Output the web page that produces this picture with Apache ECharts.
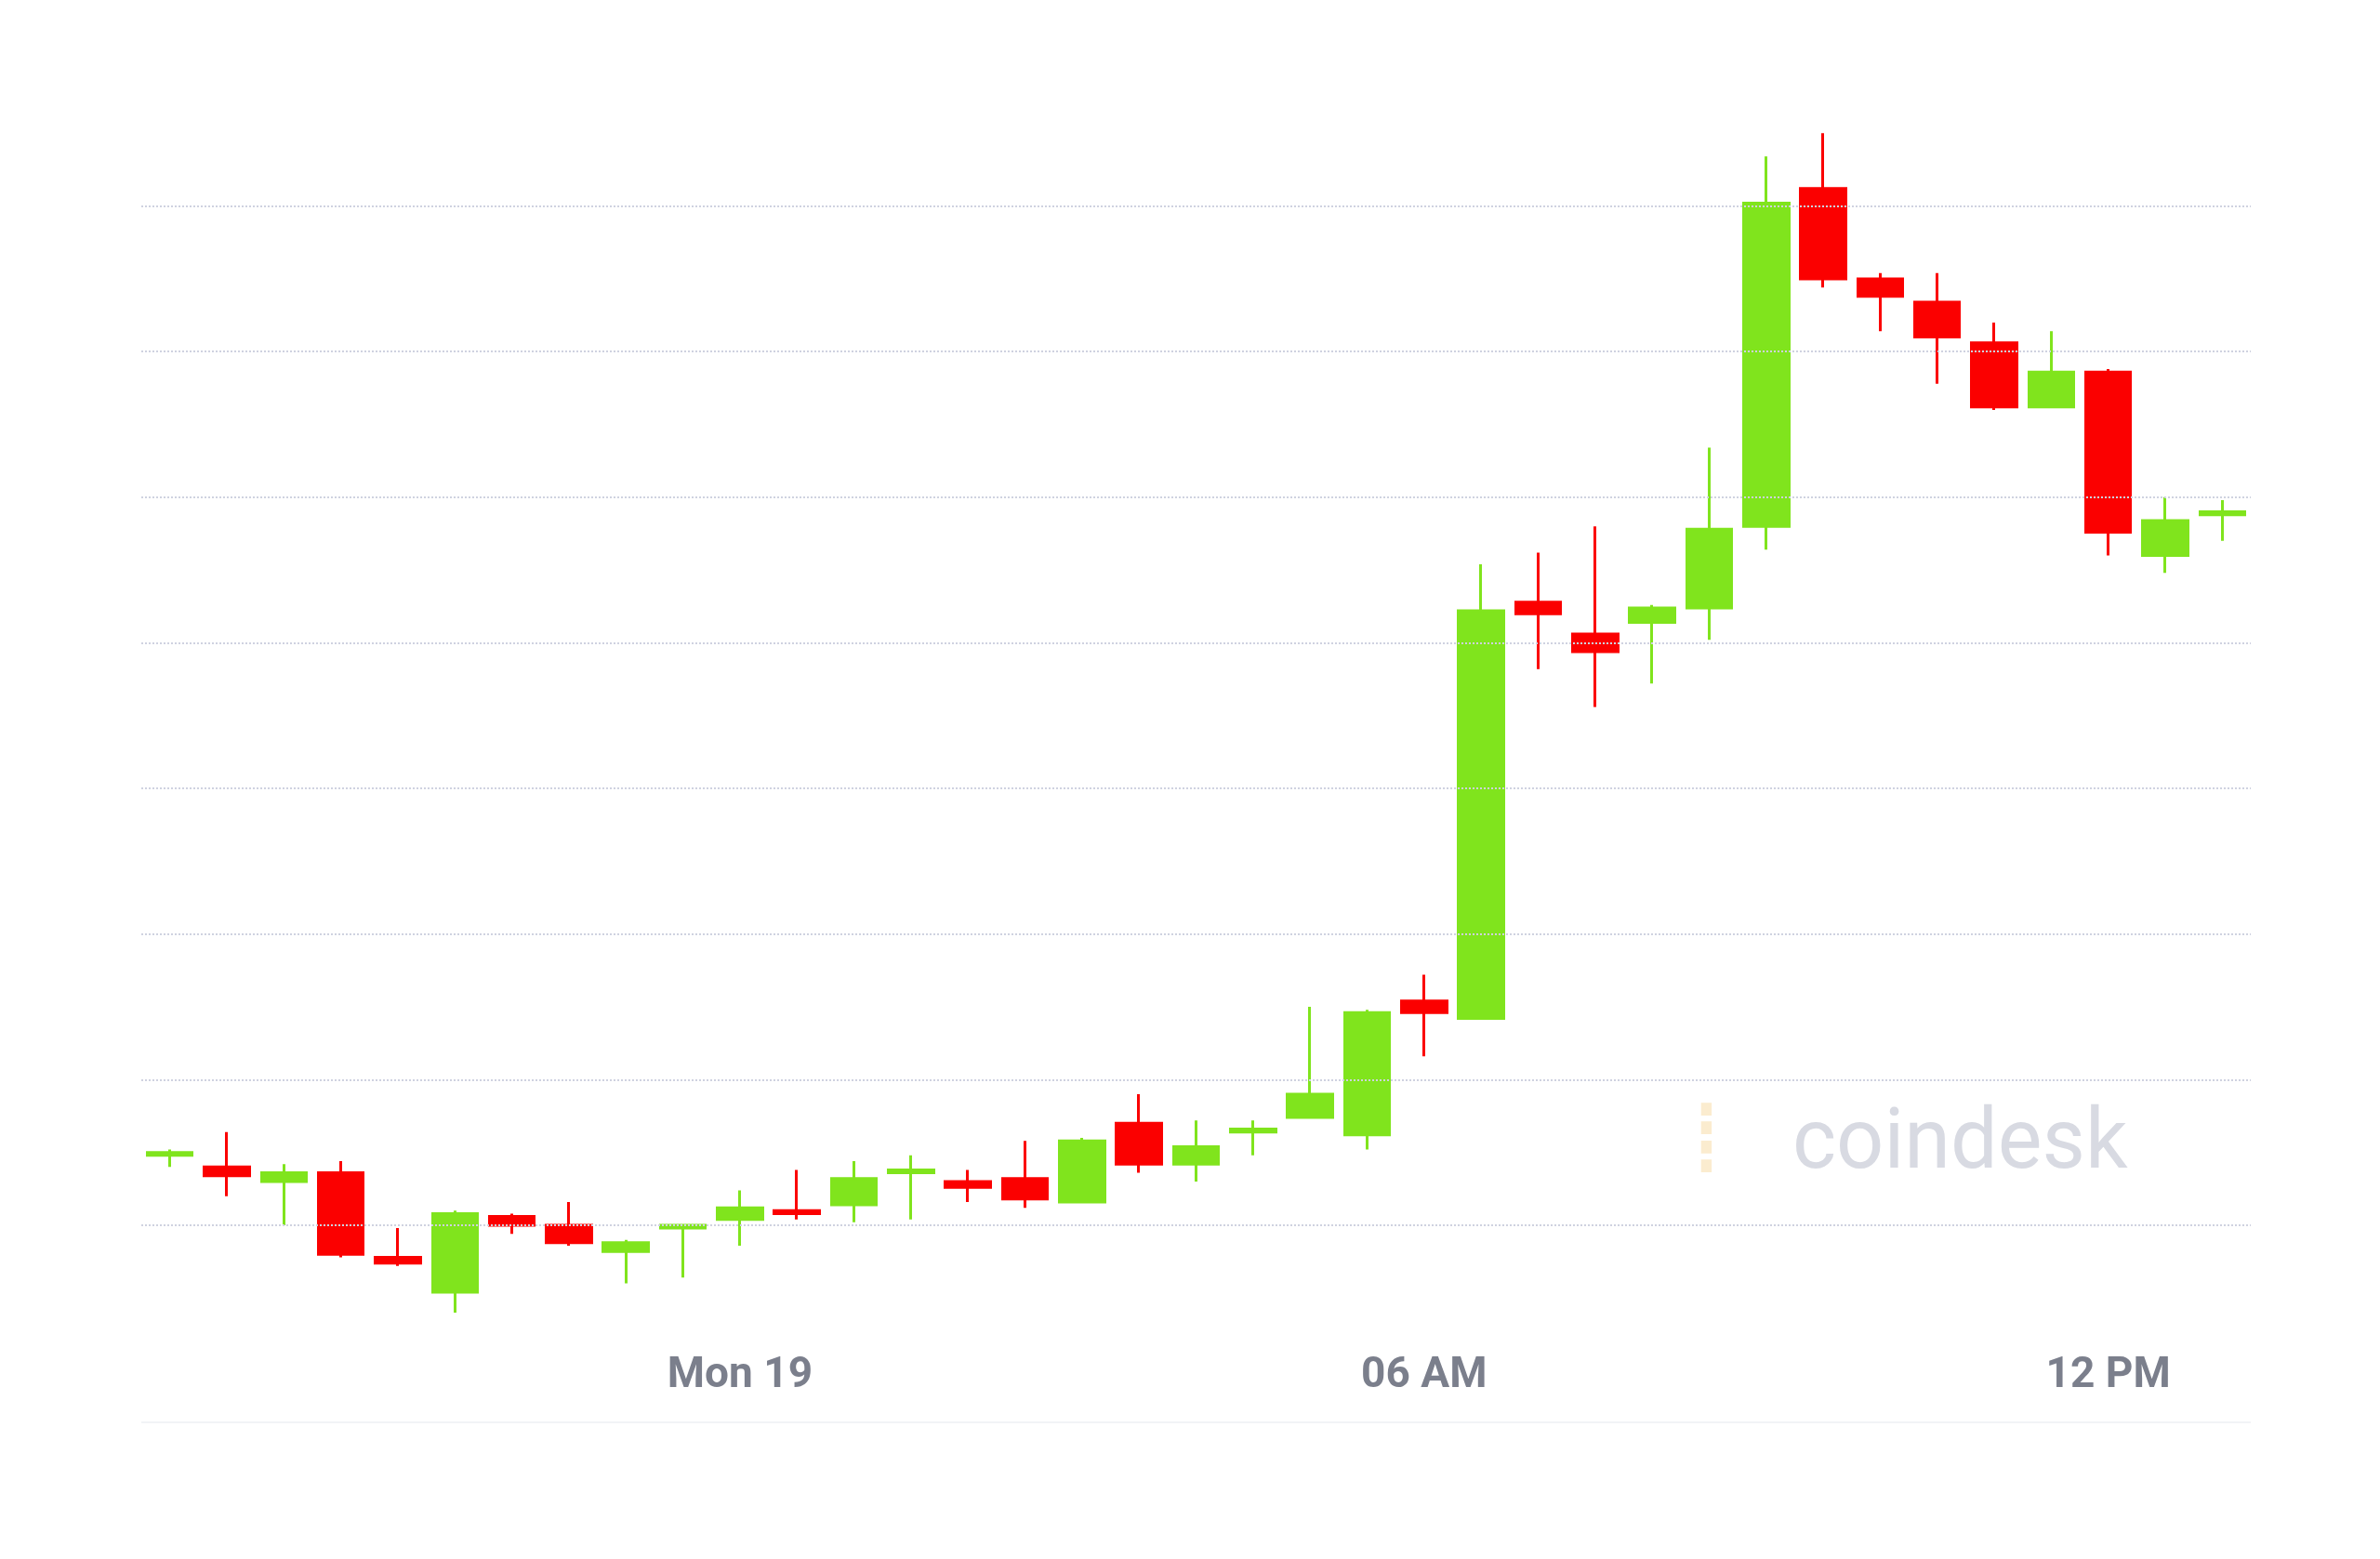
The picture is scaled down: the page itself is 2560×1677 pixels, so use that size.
<!DOCTYPE html>
<html><head><meta charset="utf-8">
<script src="https://cdn.jsdelivr.net/npm/echarts@6/dist/echarts.min.js"></script>
<style>html,body{margin:0;background:#fff}#c{width:2560px;height:1677px}</style>
</head><body><div id="c"></div>
<script>
const categories = ['19:00','19:30','20:00','20:30','21:00','21:30','22:00','22:30','23:00','23:30',
 '00:00','00:30','01:00','01:30','02:00','02:30','03:00','03:30','04:00','04:30','05:00','05:30',
 '06:00','06:30','07:00','07:30','08:00','08:30','09:00','09:30','10:00','10:30','11:00','11:30',
 '12:00','12:30','13:00'];
const openV  = [11474,11470,11465,11468,11439,11427,11453,11450,11441,11449,11452,11455,11457,11468,11465,11466,11458,11485,11471,11482,11487,11481,11527,11521,11664,11653,11657,11662,11690,11806,11775,11767,11753,11731,11743,11680,11694];
const closeV = [11475,11467,11468,11440,11437,11454,11450,11444,11444,11450,11456,11454,11466,11469,11463,11459,11479,11471,11477,11483,11495,11523,11523,11661,11660,11647,11662,11689,11801,11775,11769,11755,11731,11743,11688,11692,11695];
const lowV   = [11470,11460,11450,11439,11436,11420,11447,11443,11430,11432,11443,11452,11451,11452,11458,11456,11458,11468,11465,11474,11487,11476,11508,11521,11641,11628,11636,11651,11682,11772,11757,11739,11730,11731,11680,11674,11685];
const highV  = [11476,11482,11471,11472,11449,11455,11454,11458,11445,11450,11462,11469,11472,11474,11469,11479,11480,11495,11486,11486,11525,11524,11536,11677,11681,11690,11663,11717,11817,11825,11777,11777,11760,11757,11744,11700,11699];
const gridLevels = [11450,11500,11550,11600,11650,11700,11750,11800];
const tickLabels = {10:'Mon 19', 22:'06 AM', 34:'12 PM'};

const data = categories.map((c,i)=>[openV[i],closeV[i],lowV[i],highV[i]]);
const chart = echarts.init(document.getElementById('c'));
chart.setOption({
  animation:false,
  backgroundColor:'#fff',
  grid:{left:152,right:139,top:65,bottom:240},
  xAxis:{type:'category',data:categories,boundaryGap:true,
    axisLine:{show:false},axisTick:{show:false},
    axisLabel:{interval:0,margin:20,color:'#7b7f8c',fontSize:46,fontWeight:'bold',fontFamily:'Roboto',
      formatter:(v,i)=>tickLabels[i]||''}},
  yAxis:{type:'value',min:11412,max:11850,show:false,splitLine:{show:false}},
  graphic:[
    {type:'line',shape:{x1:152,y1:1530,x2:2421,y2:1530},style:{stroke:'#f2f3f6',lineWidth:2}},
    {type:'text',left:1928,top:1188,style:{text:'coindesk',fontSize:90,fontFamily:'Roboto',fill:'#d8dae2'},z:-1},
    {type:'text',left:1818,top:1178,style:{text:'⁞',fontSize:110,fontFamily:'DejaVu Sans',fill:'#fbeccf'},z:-1}
  ],
  series:[{
    type:'candlestick',data:data,barWidth:'80%',
    itemStyle:{color:'#80e41d',color0:'#fb0000',borderColor:'#80e41d',borderColor0:'#fb0000',borderWidth:3},
    markLine:{silent:true,symbol:'none',label:{show:false},
      lineStyle:{type:'dotted',color:'#cfd2e0',width:2},
      data:gridLevels.map(v=>({yAxis:v})),z:10}
  }]
});
</script></body></html>
